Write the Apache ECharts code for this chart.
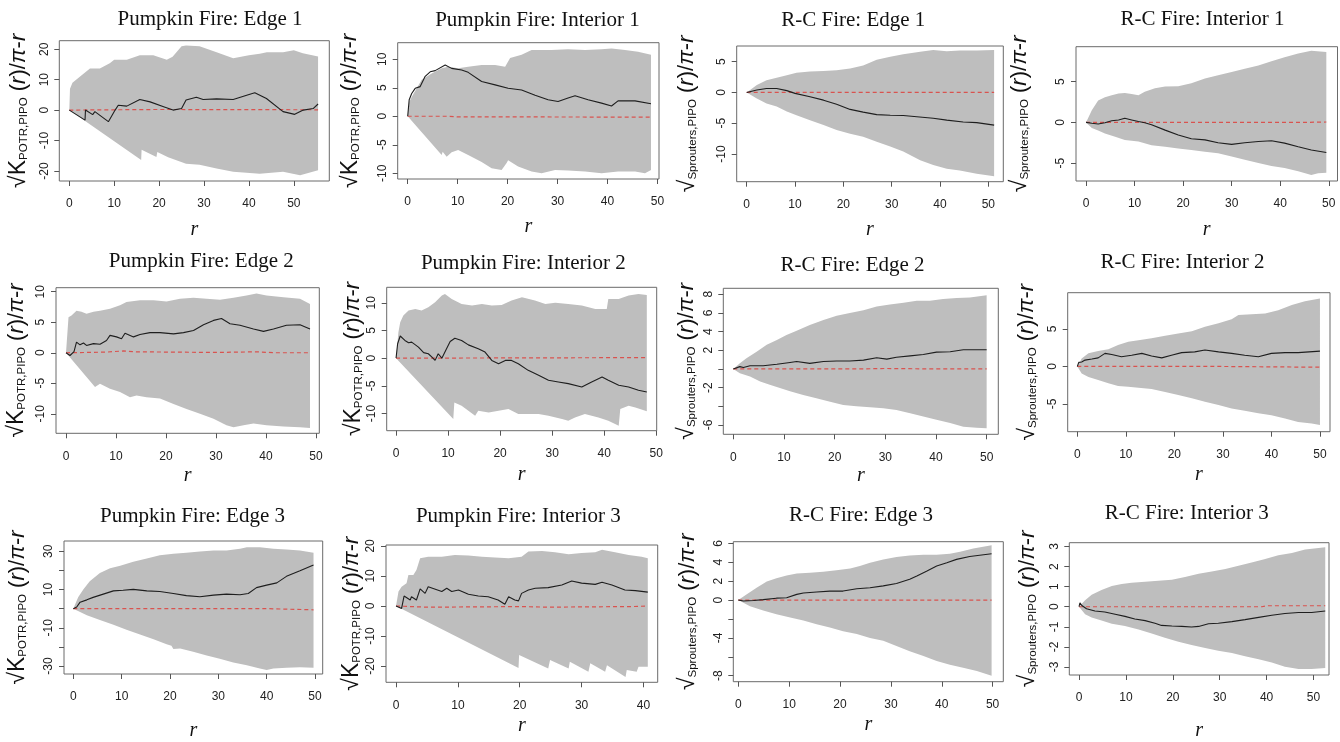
<!DOCTYPE html>
<html><head><meta charset="utf-8">
<script src="https://cdn.jsdelivr.net/npm/echarts@6/dist/echarts.min.js"></script>
<style>html,body{margin:0;padding:0;background:#fff}#c{width:1340px;height:742px}</style>
</head><body><div id="c"></div><script>
// ---------------- DATA ----------------
const titles = ["Pumpkin Fire: Edge 1","Pumpkin Fire: Interior 1","R-C Fire: Edge 1","R-C Fire: Interior 1",
  "Pumpkin Fire: Edge 2","Pumpkin Fire: Interior 2","R-C Fire: Edge 2","R-C Fire: Interior 2",
  "Pumpkin Fire: Edge 3","Pumpkin Fire: Interior 3","R-C Fire: Edge 3","R-C Fire: Interior 3"];
const speciesPumpkin = "POTR,PIPO";
const speciesRC = "Sprouters,PIPO";

const xTicks50 = [0,10,20,30,40,50];
const xTicks40 = [0,10,20,30,40];

const p1YTicks = [-20,-10,0,10,20];
const p2YTicks = [-10,-5,0,5,10];
const p3YTicks = [-10,-5,0,5];
const p4YTicks = [-5,0,5];
const p5YTicks = [-10,-5,0,5,10];
const p6YTicks = [-10,-5,0,5,10];
const p7YTicks = [-6,-4,-2,0,2,4,6,8];
const p7YLabels = [-6,-2,2,4,6,8];
const p8YTicks = [-5,0,5];
const p9YTicks = [-30,-20,-10,0,10,20,30];
const p9YLabels = [-30,-10,10,30];
const p10YTicks = [-20,-10,0,10,20];
const p11YTicks = [-8,-6,-4,-2,0,2,4,6];
const p11YLabels = [-8,-4,0,2,4,6];
const p12YTicks = [-3,-2,-1,0,1,2,3];

// Panel 1
const p1Hi = [[0,0],[0.15,7],[0.7,9],[2.4,11],[4.6,13.7],[6.8,13.7],[9,15.4],[10,16.5],[12.8,16.5],[15.7,18],[18.7,18],[21.7,16.5],[23,17.5],[25,21],[26,21.2],[29,21],[32.8,19],[36.5,17],[40,18],[42.4,18.5],[44,19],[47.6,19],[50,19.7],[52,18.7],[55.4,17.6]];
const p1Lo = [[0,0],[16,-16.4],[16.1,-13],[19.4,-15.4],[19.6,-13.8],[22,-15.5],[26,-17.6],[29,-18],[32.8,-19.2],[36.5,-20.3],[42.4,-20.9],[47.6,-20.3],[51.4,-21.4],[55.4,-19.8]];
const p1Obs = [[0,0],[3.5,-3.3],[3.6,0],[5.2,-1.5],[5.7,-0.5],[8.7,-3.8],[10.2,0],[10.9,1.6],[12.8,1.3],[15.7,3.5],[18,2.7],[21,1.1],[23.1,0],[25,0.5],[26,3.3],[28.3,4.2],[29.8,3.5],[32.8,3.7],[36.5,3.5],[39.5,4.9],[41.3,5.7],[43.9,3.8],[47.6,-0.5],[50.2,-1.4],[52.1,0],[54.3,0.5],[55.4,2]];
const p1Theo = [[0,0],[20,0.2],[55.4,0.1]];
// Panel 2
const p2Hi = [[0,0],[0.3,2.5],[0.8,3.4],[2.8,6.4],[4.8,7.5],[6.8,8.4],[8.1,8.7],[10.1,8.4],[12.1,8.7],[14.8,9],[17.5,9],[19.5,8.7],[20.1,9.6],[20.5,10.2],[22.8,10.8],[24.8,11.6],[28.8,11.6],[32.1,11.75],[35.5,11.6],[38.8,11.75],[40.8,11.9],[43.5,11.6],[46.1,11.3],[48.7,10.8]];
const p2Lo = [[0,0],[6.8,-6.8],[7,-6.2],[7.8,-7.1],[8.8,-6.3],[10.1,-5.9],[12.1,-6.8],[14.8,-8],[16.8,-9.1],[18.8,-9.4],[19.8,-8.2],[20.1,-7.7],[22.1,-8.8],[24.8,-9.7],[26.8,-10],[29.5,-9.4],[32.1,-9.5],[35.5,-9.7],[38.8,-10],[42.1,-9.7],[45.5,-9.7],[47.5,-10],[48.7,-9.4]];
const p2Obs = [[0,0],[0.3,2.9],[0.8,4],[1.5,4.9],[2.5,5.2],[3.5,7],[4.5,7.8],[5.5,8],[7.5,9],[8.8,8.4],[10.8,8.1],[12.1,7.7],[14.8,6.1],[17.5,5.5],[20.1,4.9],[22.8,4.6],[25.5,3.7],[28.1,2.9],[30.1,2.6],[32.1,3.2],[33.5,3.6],[36.1,2.9],[38.8,2.3],[40.8,1.8],[42.1,2.7],[45.5,2.7],[48.7,2.2]];
const p2Theo = [[0,0],[8,0],[10,-0.1],[48.7,-0.15]];
// Panel 3
const p3Hi = [[0,0],[2.1,1.2],[4.1,2],[6.2,2.4],[8.3,2.8],[10.3,3.2],[13.1,3.4],[15.9,3.5],[18.6,3.6],[21.4,3.9],[24.1,4.4],[26.9,5.3],[29.7,5.8],[32.4,6.2],[35.9,6.6],[38.6,6.9],[41.4,6.7],[44.1,6.8],[47.6,6.8],[51.2,6.9]];
const p3Lo = [[0,0],[2.1,-1],[4.1,-1.8],[6.2,-2.3],[8.3,-3.1],[10.3,-3.7],[13.1,-4.5],[15.9,-5.3],[18.6,-6.1],[21.4,-6.7],[24.1,-7.2],[26.9,-8],[29.7,-8.8],[32.4,-9.6],[35.9,-11],[38.6,-11.8],[41.4,-12.4],[44.1,-12.7],[47.6,-13.2],[51.2,-13.6]];
const p3Obs = [[0,0],[2.1,0.4],[4.1,0.65],[6.2,0.65],[8.3,0.3],[10,-0.15],[13.1,-0.7],[15.9,-1.25],[18.6,-1.9],[21.4,-2.75],[24.1,-3.2],[26.9,-3.6],[29.7,-3.7],[32.4,-3.75],[35.2,-3.95],[38.6,-4.2],[41.4,-4.5],[44.8,-4.8],[47.6,-4.9],[51.2,-5.3]];
const p3Theo = [[0,0],[51.2,0]];
// Panel 4
const p4Hi = [[0,0],[1.2,1.5],[2.5,2.7],[3.9,3.1],[5.3,3.35],[6.7,3.55],[8,3.6],[9.4,3.5],[10.8,3.35],[12.1,3.75],[14.2,4.2],[16.3,4.4],[19,4.45],[21.7,4.8],[24.5,5.4],[27.2,5.8],[30,6.2],[32.7,6.6],[35.5,7],[38.2,7.5],[40.9,8],[43.7,8.45],[46.4,8.8],[49.5,8.65]];
const p4Lo = [[0,0],[1.2,-0.7],[2.5,-1],[3.9,-1.35],[6,-1.75],[8,-2.15],[10.8,-2.35],[13.5,-2.8],[16.3,-3],[19,-3.2],[21.7,-3.4],[24.5,-3.6],[27.2,-3.8],[30,-4.2],[32.7,-4.6],[35.5,-5],[38.2,-5.35],[40.9,-5.6],[43.7,-6],[46.4,-6.45],[47.8,-6.25],[49.5,-6.2]];
const p4Obs = [[0,0],[1.2,-0.1],[2.5,-0.2],[3.9,-0.05],[5.3,0.2],[6.7,0.3],[8,0.5],[9.4,0.3],[10.8,0.1],[12.1,-0.05],[13.5,-0.3],[16.3,-0.95],[19,-1.55],[21.7,-2],[24.5,-2.15],[27.2,-2.5],[30,-2.7],[32.7,-2.5],[35.5,-2.35],[38.2,-2.25],[40.9,-2.55],[43.7,-3],[46.4,-3.4],[49.5,-3.7]];
const p4Theo = [[0,0],[45,0],[49.5,0.05]];
// Panel 5
const p5Hi = [[0,0],[0.5,5.8],[1.1,6.1],[2.1,6.9],[3.1,6.7],[4.1,6.4],[5.5,6.7],[6.8,6.9],[8.8,7.2],[10.8,7.8],[12.1,8.3],[14.8,8.6],[17.5,8.6],[20.1,8.4],[22.8,8.85],[25.5,9],[28.1,8.85],[30.8,8.7],[33.5,9],[36.1,9.4],[38.1,9.7],[40.1,9.4],[43.5,9.1],[46.8,8.85],[48.8,8]];
const p5Lo = [[0,0],[5.8,-5.6],[6.8,-5.1],[8.8,-5.9],[10.8,-6.45],[12.8,-7.3],[14.1,-7],[16.1,-7.3],[18.8,-7.5],[21.5,-8.4],[24.1,-9.2],[26.8,-10],[29.5,-10.8],[32.1,-11.9],[33.5,-12.2],[35.5,-11.9],[37.5,-11.6],[40.1,-11.9],[43.5,-12.1],[46.8,-12.2],[48.8,-12.35]];
const p5Obs = [[0,0],[0.8,-0.45],[1.1,-0.7],[1.6,0.2],[2.1,1.75],[2.8,1.3],[3.5,1.6],[4.1,1.2],[5.5,1.5],[6.8,1.4],[8.1,2],[8.8,2.85],[10.1,2.6],[11.1,2.3],[11.8,3.2],[13.5,2.6],[14.8,3],[16.8,3.3],[18.8,3.3],[21.5,3.1],[23.5,3.3],[25.5,3.65],[27.5,4.6],[29.5,5.3],[31.1,5.6],[32.8,4.75],[34.8,4.5],[37.5,3.9],[39.5,3.5],[41.5,3.9],[44.1,4.5],[46.8,4.6],[48.8,3.9]];
const p5Theo = [[0,0],[8,0.1],[11.5,0.3],[14,0.15],[30,0.05],[38,0.15],[42,0],[48.8,0]];
// Panel 6
const p6Hi = [[0,0],[0.45,4.7],[0.8,6.5],[1.4,7.7],[2.4,8.6],[3.7,8.9],[4.9,8.6],[6.2,9.2],[7.5,10.1],[8.8,11.3],[9.4,11.6],[10.7,10.7],[12.6,9.8],[14.6,9.5],[16.5,9.8],[18.4,9.5],[20.3,9.6],[22.2,10.4],[24.2,11],[26.7,10.4],[28.7,9.8],[30.6,10],[33.1,9.8],[35.7,9.5],[38.3,8.9],[40.5,8.9],[40.8,10.7],[42.8,10.7],[44.7,11.3],[46.6,11.6],[48.2,11.4]];
const p6Lo = [[0,0],[11,-11],[11.2,-8],[12.6,-8.6],[13.9,-9.5],[15.2,-10.4],[15.8,-9.5],[17.8,-9.8],[19.7,-9.5],[21.6,-9.2],[23.5,-10.1],[25.4,-10.1],[27.4,-10.1],[29.3,-10.4],[31.9,-11],[33.1,-11.3],[34.4,-10.7],[36.3,-10.1],[38.9,-10.7],[40.8,-11.3],[42.8,-12.2],[43.1,-9.2],[44.7,-8.6],[46,-8.9],[48.2,-9.6]];
const p6Obs = [[0,0],[0.3,2.6],[0.8,4],[1.7,3.2],[2.4,2.8],[3,2.9],[4.3,2],[5.3,1],[6.2,0.8],[6.9,0.2],[7.5,-0.4],[8.1,0.8],[8.8,0],[9.1,-0.3],[9.7,1.7],[10.4,3],[11.3,3.6],[12.6,3.2],[13.9,2.4],[15.8,1.7],[17.1,1.1],[18.4,-0.4],[19.7,-1],[21,-0.4],[22.2,-0.4],[23.5,-1],[25.4,-2.2],[27.4,-3.1],[29.3,-4],[31.2,-4.3],[33.1,-4.6],[35.7,-5.2],[37.6,-4.3],[39.6,-3.4],[40.8,-4],[42.8,-4.9],[44.7,-5.2],[46.6,-5.8],[48.2,-6.1]];
const p6Theo = [[0,0],[48.2,0.1]];
// Panel 7
const p7Hi = [[0,0],[1.3,0.6],[2.6,1.15],[4.6,1.85],[6.6,2.6],[8.6,3.1],[10.5,3.65],[12.5,4.1],[15.1,4.7],[17.8,5.25],[20.4,5.7],[23,6],[25.7,6.3],[28.3,6.7],[30.9,6.9],[33.6,7.1],[36.2,7.3],[38.8,7.3],[41.4,7.5],[44.1,7.6],[46.7,7.65],[50,7.9]];
const p7Lo = [[0,0],[1.3,-0.45],[3.3,-0.8],[5.3,-1.35],[7.2,-1.7],[9.2,-2.05],[11.2,-2.4],[13.8,-2.8],[16.4,-3.15],[19.1,-3.5],[21.7,-3.85],[24.3,-4],[27,-4.1],[29.6,-4.2],[32.2,-4.4],[34.9,-4.75],[37.5,-5.1],[40.1,-5.45],[42.8,-5.8],[45.4,-6.2],[48,-6.3],[50,-6.35]];
const p7Obs = [[0,0],[1.3,0.25],[2,0.15],[3.3,0.35],[5.9,0.35],[8.6,0.5],[11.2,0.7],[12.5,0.8],[15.1,0.6],[17.8,0.8],[20.4,0.85],[23,0.85],[25.7,0.95],[28.3,1.2],[30.3,1.05],[32.2,1.25],[34.9,1.4],[37.5,1.55],[40.1,1.8],[42.8,1.85],[45.4,2.05],[50,2.05]];
const p7Theo = [[0,0],[25,0],[30,0.05],[40,0],[50,0]];
// Panel 8
const p8Hi = [[0,0],[0.9,1.05],[2.3,1.75],[4.3,2.05],[6.4,2.3],[8.4,2.85],[10.5,3.3],[12.6,3.5],[15.3,3.75],[18.1,4.1],[20.8,4.4],[23.6,4.7],[26.3,5.3],[29.1,5.75],[31.8,6.3],[33.2,6.85],[35.9,6.95],[38.7,7.05],[41.4,7.5],[44.2,8.2],[46.9,8.7],[50,9.05]];
const p8Lo = [[0,0],[0.9,-0.95],[2.3,-1.4],[4.3,-1.8],[6.4,-2.25],[8.4,-2.6],[10.5,-2.7],[12.6,-2.85],[15.3,-3],[18.1,-3.4],[20.8,-3.8],[23.6,-4.25],[26.3,-4.7],[29.1,-5.15],[31.8,-5.6],[34.5,-5.9],[37.3,-6.25],[40,-6.5],[42.8,-6.95],[45.5,-7.4],[48.3,-7.6],[50,-7.8]];
const p8Obs = [[0,0],[0.3,0.55],[0.9,0.6],[1.6,0.85],[3,1],[4.3,1.15],[5.7,1.75],[7.1,1.6],[9.1,1.3],[11.2,1.5],[13.3,1.75],[15.3,1.4],[17.4,1.15],[19.4,1.5],[21.5,1.85],[24.2,1.95],[26.3,2.2],[29.1,1.95],[31.8,1.75],[34.5,1.5],[37.3,1.3],[40,1.75],[42.8,1.85],[45.5,1.85],[50,2.05]];
const p8Theo = [[0,0],[30,0],[50,-0.1]];
// Panel 9
const p9Hi = [[0,0],[1,5.9],[2.1,10.1],[3.4,14.4],[5.5,18.6],[7.6,21.1],[9.7,22.5],[12.4,24.5],[15.2,26.2],[17.9,27.9],[20.7,28.7],[23.4,29.2],[26.2,29.9],[29,30.4],[31.7,30.4],[34.5,31.3],[35.9,32.1],[38.6,32.1],[41.4,31.3],[44.1,30.9],[46.9,30.4],[49.7,29.2]];
const p9Lo = [[0,0],[2.8,-3.4],[5.5,-5.9],[8.3,-8.4],[11,-11],[13.8,-13.5],[16.6,-16],[19.3,-18.6],[20.3,-19.4],[20.7,-21.1],[22.1,-20.8],[24.8,-22.5],[27.6,-24.5],[30.3,-26.2],[33.1,-28.2],[35.9,-29.6],[38.6,-31.3],[40,-32.1],[41.4,-31.3],[44.1,-30.9],[46.9,-30.7],[49.7,-30.9]];
const p9Obs = [[0,0],[0.7,0.85],[1.4,3.4],[2.8,4.6],[4.1,5.9],[6.2,7.6],[8.3,9.3],[10.3,9.6],[12.4,10.1],[15.2,9.3],[17.9,9],[20.7,7.9],[23.4,6.8],[26.2,6.25],[29,7.1],[31.7,7.6],[34.5,7.3],[36.2,7.9],[37.9,11],[40,12.3],[42.1,13.5],[44.1,16.9],[46.9,19.8],[49.7,22.8]];
const p9Theo = [[0,0],[40,0],[49.7,-0.6]];
// Panel 10
const p10Hi = [[0,0],[0.4,4.8],[0.9,6.4],[1.7,7.6],[2,10.3],[2.8,10.3],[3.3,12],[3.9,15.9],[5.2,16.4],[7.4,16.4],[9.5,17],[11.7,16.8],[13.9,16.4],[16,16.1],[18.2,15.9],[20.3,16.4],[21.4,18.1],[23.6,18.3],[25.7,17.9],[27.9,17.2],[30,17.6],[32.2,17.9],[33.3,18.7],[35.4,17.9],[37.6,17],[39.7,16.4],[40.7,15.9]];
const p10Lo = [[0,0],[19.8,-20.6],[19.9,-16.3],[24.6,-20.8],[24.9,-18],[27.9,-20.8],[28.1,-18.6],[31.1,-21.9],[31.4,-19.1],[33.8,-21.9],[34.1,-19.7],[37.1,-23.6],[37.3,-21.3],[38.9,-21.9],[39.2,-20.2],[40.7,-20.2]];
const p10Obs = [[0,0],[0.9,-0.8],[1.2,-1],[1.3,3.3],[2.3,2],[2.5,3.1],[3.3,2],[3.9,5.7],[4.7,4.2],[5.2,6.4],[7.4,4.8],[8.2,5.9],[9,4.8],[10.1,5.3],[11.7,3.9],[13.3,3.3],[14.9,3.1],[16.5,2],[17.6,0.55],[18.2,3.1],[19.2,2],[19.8,1.7],[20.3,4.2],[21.4,5.3],[22.5,5.9],[24.6,6.1],[26.8,7],[28.4,8.3],[30,7.6],[32.2,7.2],[33.3,7.9],[34.9,7],[37,5.3],[38.7,5.1],[40.7,4.6]];
const p10Theo = [[0,0],[5,-0.4],[20,-0.2],[25,-0.4],[30,-0.3],[38,-0.2],[40.7,0]];
// Panel 11
const p11Hi = [[0,0],[1.6,0.6],[3.6,1.3],[5.6,1.95],[7.5,2.3],[9.5,2.6],[11.5,2.8],[14.1,2.9],[16.7,3],[19.3,3.15],[22,3.35],[23.9,3.6],[25.9,3.95],[28.5,4.3],[31.1,4.55],[33.7,4.7],[36.4,4.8],[39,4.8],[41.6,4.9],[43.6,5.1],[46.2,5.45],[49.8,5.8]];
const p11Lo = [[0,0],[2.3,-0.65],[4.9,-1.1],[7.5,-1.5],[10.2,-1.85],[12.8,-2.15],[15.4,-2.55],[18,-2.9],[20.6,-3.3],[23.3,-3.6],[25.9,-4],[28.5,-4.3],[31.1,-4.85],[33.7,-5.4],[36.4,-5.9],[39,-6.45],[41.6,-6.85],[44.2,-7.15],[46.9,-7.5],[49.8,-8]];
const p11Obs = [[0,0],[1,-0.1],[3,-0.05],[4.9,0.05],[7.5,0.2],[9.5,0.25],[11.5,0.6],[12.8,0.75],[15.4,0.85],[18,0.95],[20.6,0.95],[23.3,1.2],[25.9,1.3],[28.5,1.5],[31.1,1.75],[33.7,2.2],[35.1,2.55],[37,3.05],[39,3.6],[41,3.95],[42.9,4.3],[45.5,4.6],[49.8,4.9]];
const p11Theo = [[0,0],[49.8,0]];
// Panel 12
const p12Hi = [[0,0],[1.3,0.32],[2.7,0.6],[4.8,0.84],[7,1.03],[9.1,1.13],[11.2,1.19],[14.1,1.24],[16.9,1.29],[19.8,1.35],[22.6,1.48],[25.5,1.64],[28.3,1.75],[31.2,1.88],[34,2.04],[36.8,2.2],[39.5,2.36],[42.5,2.56],[45.4,2.68],[48.2,2.85],[52.5,2.96]];
const p12Lo = [[0,0],[1.3,-0.37],[2.7,-0.53],[4.8,-0.69],[7,-0.85],[9.8,-0.96],[12.7,-1.13],[15.5,-1.33],[18.3,-1.54],[21.2,-1.74],[24,-1.9],[26.9,-2.06],[29.7,-2.19],[32.6,-2.3],[35.4,-2.46],[38.3,-2.62],[41.1,-2.78],[43.9,-2.99],[46.8,-3.1],[49.6,-3.1],[52.5,-3.05]];
const p12Obs = [[0,0],[0.2,0.19],[0.6,0.06],[1.6,-0.1],[3.4,-0.21],[5.5,-0.26],[7.7,-0.37],[9.8,-0.48],[11.9,-0.61],[14.1,-0.69],[16.2,-0.82],[17.6,-0.93],[19.8,-0.96],[21.9,-0.98],[24,-1.01],[25.5,-0.98],[27.6,-0.85],[29.7,-0.82],[32.6,-0.74],[35.4,-0.64],[38.3,-0.53],[41.1,-0.42],[43.9,-0.34],[46.8,-0.29],[49.6,-0.29],[52.5,-0.21]];
const p12Theo = [[0,0],[39,0],[40,0.05],[52.5,0.05]];

// ---------------- LAYOUT (positions / styles) ----------------
const layout = [
 {l:59.3,t:40.7,r:329.3,b:181,x0:-2.23,x1:57.9,y0:-23.3,y1:22.8,yg:29,xg:39,tx:210,ty:19},
 {l:397.7,t:42.7,r:659,b:179,x0:-2,x1:50.3,y0:-11,y1:12.9,yg:36,xg:38,tx:537.5,ty:20.6},
 {l:736.7,t:46,r:1003.3,b:181.7,x0:-2.07,x1:53.1,y0:-14.5,y1:7.55,yg:38,xg:38,tx:853.3,ty:20},
 {l:1076,t:46.7,r:1337.5,b:181,x0:-2.06,x1:51.8,y0:-7.2,y1:9.3,yg:45,xg:39,tx:1202.5,ty:19.5},
 {l:56,t:287.7,r:319.3,b:433.3,x0:-2,x1:50.66,y0:-13.2,y1:10.66,yg:28,xg:32,tx:201.3,ty:261},
 {l:386.7,t:287.3,r:656.7,b:430.7,x0:-1.8,x1:50.1,y0:-13.1,y1:12.8,yg:22,xg:34,tx:523.3,ty:263},
 {l:723.3,t:288.3,r:998.3,b:434.3,x0:-1.97,x1:52.3,y0:-7.0,y1:8.64,yg:25,xg:31,tx:852.5,ty:265.7},
 {l:1067.7,t:292.7,r:1330,b:431.7,x0:-1.98,x1:52.07,y0:-8.7,y1:9.84,yg:29,xg:33,tx:1182.5,ty:262.3},
 {l:64,t:541,r:322.7,b:678.3,x0:-1.93,x1:51.6,y0:-34.2,y1:35.4,yg:35,xg:47,tx:192.5,ty:516},
 {l:386,t:545,r:657.7,b:682.3,x0:-1.62,x1:42.3,y0:-25.4,y1:20.3,yg:23,xg:33,tx:518.3,ty:516},
 {l:733.3,t:541.7,r:1003.3,b:681.7,x0:-0.98,x1:52.1,y0:-8.63,y1:6.17,yg:34,xg:33,tx:861,ty:515},
 {l:1069.3,t:542.7,r:1329,b:679.3,x0:-2.07,x1:53.3,y0:-3.4,y1:3.19,yg:30,xg:46,tx:1186.7,ty:513}
];

const panelData = [
 [p1Hi,p1Lo,p1Obs,p1Theo,p1YTicks,p1YTicks,xTicks50,speciesPumpkin],
 [p2Hi,p2Lo,p2Obs,p2Theo,p2YTicks,p2YTicks,xTicks50,speciesPumpkin],
 [p3Hi,p3Lo,p3Obs,p3Theo,p3YTicks,p3YTicks,xTicks50,speciesRC],
 [p4Hi,p4Lo,p4Obs,p4Theo,p4YTicks,p4YTicks,xTicks50,speciesRC],
 [p5Hi,p5Lo,p5Obs,p5Theo,p5YTicks,p5YTicks,xTicks50,speciesPumpkin],
 [p6Hi,p6Lo,p6Obs,p6Theo,p6YTicks,p6YTicks,xTicks50,speciesPumpkin],
 [p7Hi,p7Lo,p7Obs,p7Theo,p7YTicks,p7YLabels,xTicks50,speciesRC],
 [p8Hi,p8Lo,p8Obs,p8Theo,p8YTicks,p8YTicks,xTicks50,speciesRC],
 [p9Hi,p9Lo,p9Obs,p9Theo,p9YTicks,p9YLabels,xTicks50,speciesPumpkin],
 [p10Hi,p10Lo,p10Obs,p10Theo,p10YTicks,p10YTicks,xTicks40,speciesPumpkin],
 [p11Hi,p11Lo,p11Obs,p11Theo,p11YTicks,p11YLabels,xTicks50,speciesRC],
 [p12Hi,p12Lo,p12Obs,p12Theo,p12YTicks,p12YTicks,xTicks50,speciesRC]
];

const SANS = '"Liberation Sans", Arial, sans-serif';
const SERIF = '"Liberation Serif", "Times New Roman", serif';
const yRich = {
  rad: {fontFamily: SANS, fontSize: 23, color: '#111'},
  sub: {fontFamily: SANS, fontSize: 11.5, color: '#111', verticalAlign: 'bottom'},
  txt: {fontFamily: SANS, fontSize: 22, color: '#111'},
  it:  {fontFamily: SANS, fontSize: 22, fontStyle: 'italic', color: '#111'}
};
function yName(species) {
  const head = species === speciesPumpkin ? '√K' : '√';
  return '{rad|' + head + '}{sub|' + species + '}{txt| (}{it|r}{txt|)/}{it|π}{txt|-}{it|r}';
}

const grids = [], xAxes = [], yAxes = [], series = [], graphics = [];
layout.forEach(function (L, i) {
  const d = panelData[i];
  grids.push({left: L.l, top: L.t, width: L.r - L.l, height: L.b - L.t, show: true,
    borderColor: '#6a6a6a', borderWidth: 1, backgroundColor: 'transparent'});
  xAxes.push({type: 'value', gridIndex: i, min: L.x0, max: L.x1, position: 'bottom',
    axisLine: {show: false, onZero: false}, splitLine: {show: false},
    axisTick: {show: true, inside: false, customValues: d[6], length: 5, lineStyle: {color: '#555'}},
    axisLabel: {customValues: d[6], margin: 17, fontSize: 12, fontFamily: SANS, color: '#222'},
    name: 'r', nameLocation: 'middle', nameGap: L.xg,
    nameTextStyle: {fontFamily: SERIF, fontStyle: 'italic', fontSize: 20, color: '#111'}});
  yAxes.push({type: 'value', gridIndex: i, min: L.y0, max: L.y1, position: 'left',
    axisLine: {show: false, onZero: false}, splitLine: {show: false},
    axisTick: {show: true, inside: false, customValues: d[4], length: 5, lineStyle: {color: '#555'}},
    axisLabel: {customValues: d[5], rotate: 90, margin: 9, fontSize: 12, fontFamily: SANS, color: '#222'},
    name: yName(d[7]), nameLocation: 'middle', nameRotate: 90, nameGap: L.yg,
    nameTextStyle: {rich: yRich}});
  const hi = d[0], lo = d[1];
  const poly = hi.concat(lo.slice().reverse());
  series.push({type: 'custom', xAxisIndex: i, yAxisIndex: i, clip: true, silent: true, z: 1,
    data: poly, encode: {x: 0, y: 1},
    renderItem: function (params, api) {
      if (params.dataIndex !== 0) return null;
      return {type: 'polygon', shape: {points: poly.map(function (p) { return api.coord(p); })},
        style: {fill: '#bebebe', stroke: null}};
    }});
  series.push({type: 'line', xAxisIndex: i, yAxisIndex: i, data: d[3], symbol: 'none', z: 3,
    lineStyle: {color: '#d9534f', width: 1.2, type: [4, 3]}, silent: true});
  series.push({type: 'line', xAxisIndex: i, yAxisIndex: i, data: d[2], symbol: 'none', z: 4,
    lineStyle: {color: '#1e1e1e', width: 1.1}, silent: true});
  graphics.push({type: 'text', x: L.tx, y: L.ty, silent: true,
    style: {text: titles[i], fontFamily: SERIF, fontSize: 21, fill: '#111',
      textAlign: 'center', textVerticalAlign: 'middle'}});
});

const chart = echarts.init(document.getElementById('c'), null, {renderer: 'canvas'});
chart.setOption({
  animation: false,
  backgroundColor: '#ffffff',
  grid: grids, xAxis: xAxes, yAxis: yAxes, series: series, graphic: graphics
});
</script></body></html>
